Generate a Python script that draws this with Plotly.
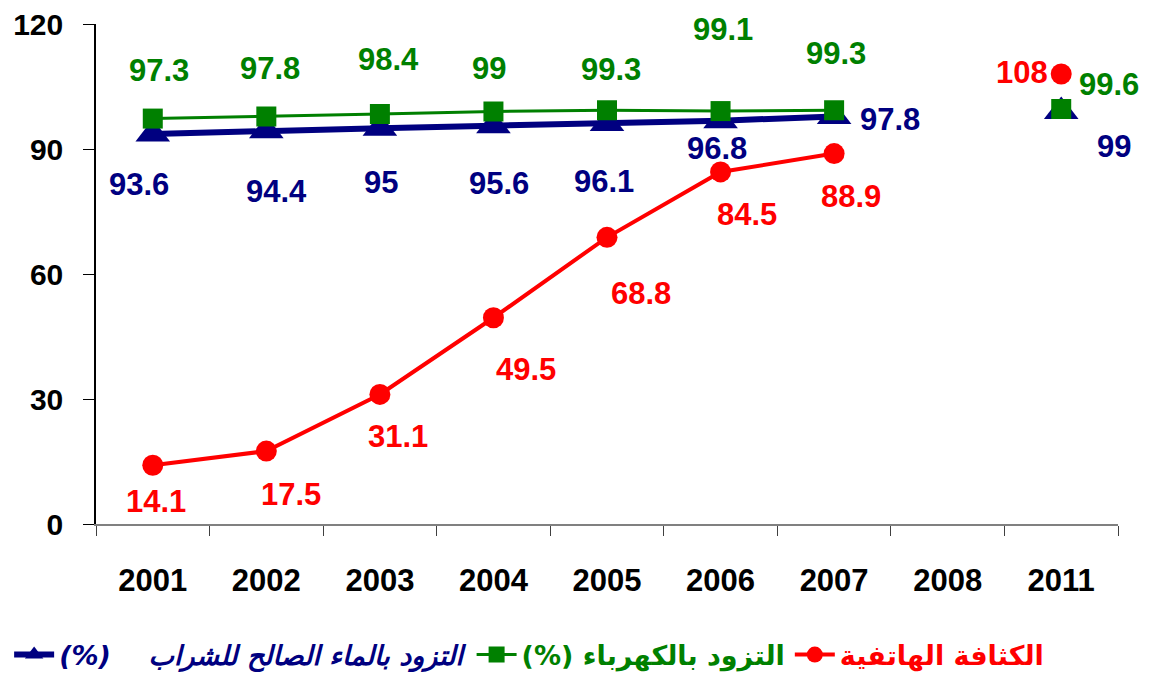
import plotly.graph_objects as go

years = ["2001", "2002", "2003", "2004", "2005", "2006", "2007", "2008", "2011"]
water = [93.6, 94.4, 95.0, 95.6, 96.1, 96.8, 97.8, None, 99.0]
electricity = [97.3, 97.8, 98.4, 99.0, 99.3, 99.1, 99.3, None, 99.6]
phone = [14.1, 17.5, 31.1, 49.5, 68.8, 84.5, 88.9, None, 108.0]

name_water = "(%)    التزود بالماء الصالح للشراب"
name_elec = "(%) التزود بالكهرباء"
name_phone = "الكثافة الهاتفية"

BLUE = "#000080"
GREEN = "#008000"
RED = "#FF0000"

# label offsets in pixels (dx, dy screen-down)
off_water = [(-14, 50), (10, 61), (1, 54), (6, 58), (-3, 58), (-4, 28), (56, 3), None, (53, 35)]
off_elec = [(6, -48), (4, -48), (9, -55), (-4, -43), (4, -41), (2, -82), (2, -57), None, (48, -25)]
off_phone = [(3, 36), (25, 43), (18, 42), (33, 52), (34, 56), (26, 43), (17, 43), None, (-39, -2)]

fig = go.Figure()
fig.add_trace(go.Scatter(x=years, y=water, mode="lines+markers",
                         name=f"<i><span style='color:{BLUE}'>{name_water}</span></i>",
                         line=dict(color=BLUE, width=6),
                         marker=dict(symbol="triangle-up", size=30, color=BLUE),
                         connectgaps=False))
fig.add_trace(go.Scatter(x=years, y=electricity, mode="lines+markers",
                         name=f"<span style='color:{GREEN}'>{name_elec}</span>",
                         line=dict(color=GREEN, width=3),
                         marker=dict(symbol="square", size=20, color=GREEN),
                         connectgaps=False))
fig.add_trace(go.Scatter(x=years, y=phone, mode="lines+markers",
                         name=f"<span style='color:{RED}'>{name_phone}</span>",
                         line=dict(color=RED, width=4),
                         marker=dict(symbol="circle", size=21, color=RED),
                         connectgaps=False))

def fmt(v):
    return f"{v:g}"

annotations = []
for vals, offs, col in [(water, off_water, BLUE), (electricity, off_elec, GREEN), (phone, off_phone, RED)]:
    for i, (v, o) in enumerate(zip(vals, offs)):
        if v is None:
            continue
        annotations.append(dict(x=i, y=v, xref="x", yref="y", text=f"<b>{fmt(v)}</b>",
                                showarrow=False, xshift=o[0], yshift=-o[1],
                                font=dict(family="Arial, Liberation Sans", size=31, color=col)))

# page body has an 8px margin; the figure is offset by it
fig.update_layout(
    width=1146, height=670,
    margin=dict(l=88, r=36, t=16, b=154, autoexpand=False),
    paper_bgcolor="white", plot_bgcolor="white",
    showlegend=True,
    legend=dict(orientation="h", x=-0.085, xanchor="left", y=-0.262, yanchor="middle",
                font=dict(family="DejaVu Sans", size=27, color="black", weight="bold"),
                itemwidth=40, traceorder="normal"),
    annotations=annotations,
    xaxis=dict(type="category", categoryorder="array", categoryarray=years,
               range=[-0.5, len(years) - 0.5], autorange=False, automargin=False,
               showline=True, linecolor="#808080", linewidth=2,
               ticks="outside", tickson="boundaries", ticklen=10, tickcolor="#404040",
               showgrid=False, zeroline=False,
               tickfont=dict(family="Arial, Liberation Sans", size=31, color="black", weight="bold"),
               ticklabelstandoff=28, ticklabeloverflow="allow"),
    yaxis=dict(range=[0, 120], autorange=False, automargin=False, dtick=30, tick0=0,
               showline=True, linecolor="black", linewidth=1.5,
               ticks="outside", ticklen=11, tickcolor="black",
               showgrid=False, zeroline=False,
               tickfont=dict(family="Arial, Liberation Sans", size=30, color="black", weight="bold"),
               ticklabelstandoff=14, ticklabeloverflow="allow"),
)

fig.write_html("out.html")
